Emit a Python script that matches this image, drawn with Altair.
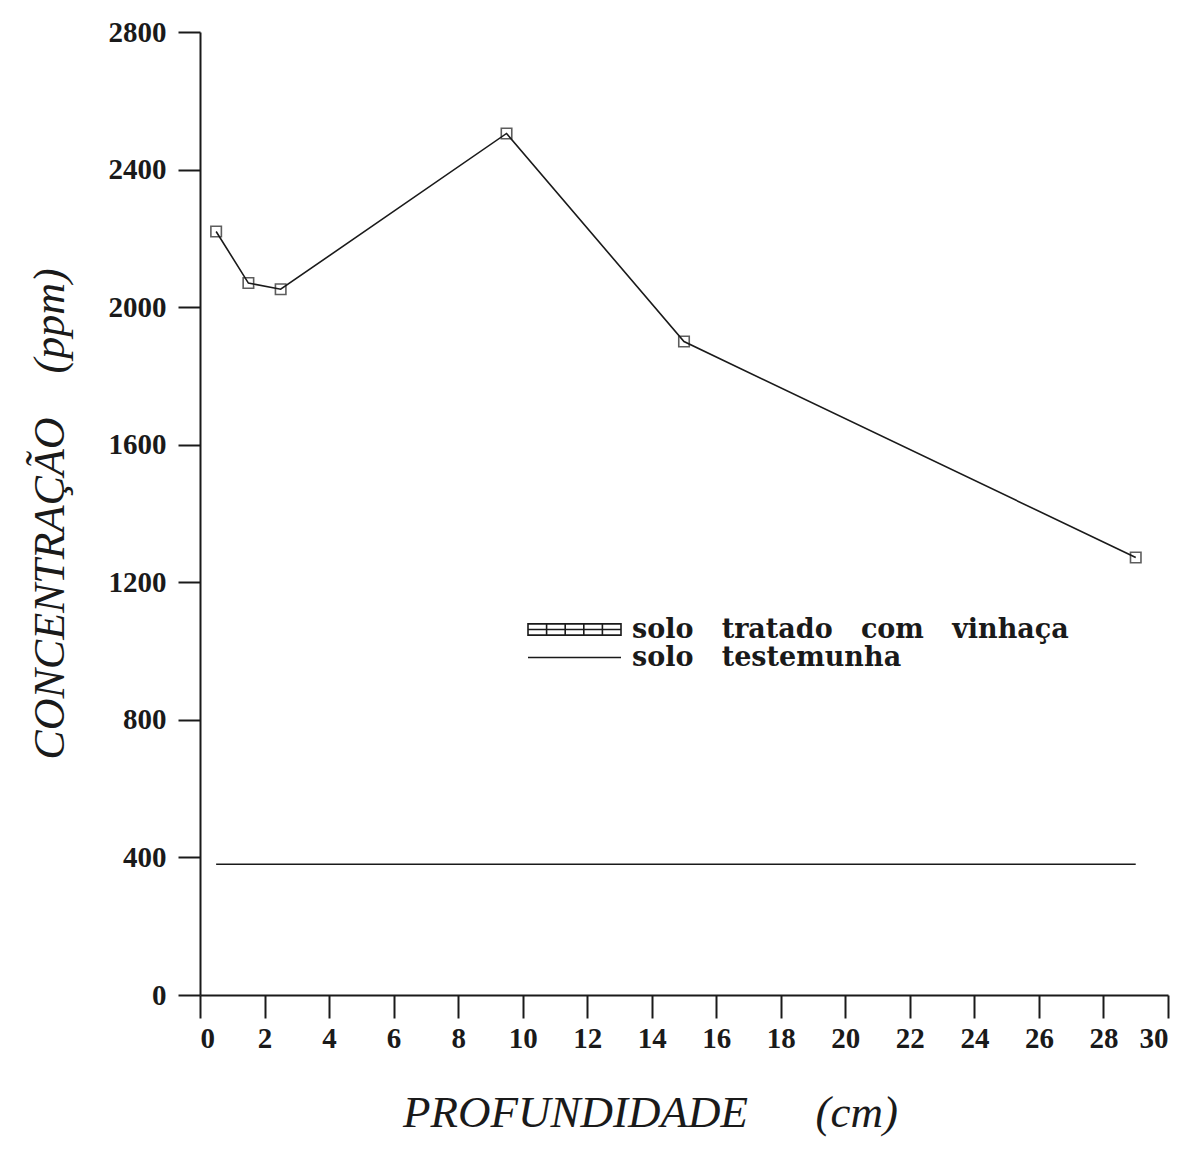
import altair as alt
import pandas as pd

# Data
depth = [0.5, 1.5, 2.5, 9.5, 15, 29]
treated = [2220, 2070, 2052, 2505, 1900, 1272]
control = [380, 380, 380, 380, 380, 380]

NB = "\u00a0"
S_TREAT = (NB * 3).join(["solo", "tratado", "com", "vinhaça"])
S_CTRL = (NB * 3).join(["solo", "testemunha"])

df = pd.DataFrame(
    {"x": depth + depth,
     "y": treated + control,
     "serie": [S_TREAT] * len(depth) + [S_CTRL] * len(depth)}
)

squares = "M-1,0H1" + "".join(
    f"M{-1 + 0.4 * i:.2f},-0.12h0.4v0.24h-0.4z" for i in range(5)
)
flat = "M-1,0H1"

FONT = "Liberation Serif"
LFONT = "DejaVu Serif"
INK = "#1a1a1a"

xax = alt.X(
    "x:Q",
    scale=alt.Scale(domain=[0, 30], nice=False, zero=False),
    axis=alt.Axis(
        values=list(range(0, 31, 2)), format="d", grid=False, tickSize=23, labelPadding=6,
        labelFont=FONT, labelFontWeight="bold", labelFontSize=29, labelColor=INK,
        domainColor=INK, tickColor=INK, domainWidth=2, tickWidth=2,
        title="PROFUNDIDADE" + NB * 6 + "(cm)", titleFont=FONT, titleFontStyle="italic",
        titleFontWeight="normal", titleFontSize=45, titlePadding=37, titleColor=INK,
        titleX=450,
    ),
)
yax = alt.Y(
    "y:Q",
    scale=alt.Scale(domain=[0, 2800], nice=False),
    axis=alt.Axis(
        values=list(range(0, 2801, 400)), format="d", grid=False, tickSize=22, labelPadding=12,
        labelFont=FONT, labelFontWeight="bold", labelFontSize=29, labelColor=INK,
        domainColor=INK, tickColor=INK, domainWidth=2, tickWidth=2,
        title="CONCENTRAÇÃO" + NB * 4 + "(ppm)", titleFont=FONT, titleFontStyle="italic",
        titleFontWeight="normal", titleFontSize=44, titlePadding=36, titleColor=INK,
    ),
)

base = alt.Chart(df)

lines = base.mark_line(strokeWidth=1.6, color=INK).encode(
    x=xax, y=yax, detail="serie:N"
)

pts = base.transform_filter(alt.datum.serie == S_TREAT).mark_point(
    shape="square", size=110, filled=False, strokeWidth=1.6, color=INK
).encode(x="x:Q", y="y:Q")


def legend_for(name, path, ly):
    return base.transform_filter(alt.datum.serie == name).mark_point(
        opacity=0, size=8649, filled=False
    ).encode(
        x="x:Q",
        y="y:Q",
        shape=alt.Shape(
            "serie:N",
            scale=alt.Scale(domain=[name], range=[path]),
            legend=alt.Legend(
                title=None, orient="none", legendX=327, legendY=ly,
                symbolOpacity=1, symbolFillColor="transparent", symbolStrokeColor=INK,
                symbolStrokeWidth=1.6, symbolSize=8649,
                labelFont=LFONT, labelFontWeight="bold", labelFontSize=27, labelColor=INK,
                labelOffset=10, labelLimit=700,
            ),
        ),
    )


leg1 = legend_for(S_TREAT, squares, 550)
leg2 = legend_for(S_CTRL, flat, 578)

chart = alt.layer(lines, pts, leg1, leg2).resolve_scale(shape="independent").properties(
    width=968, height=963,
    autosize=alt.AutoSizeParams(type="none"),
    padding={"left": 192, "top": 24, "right": 13, "bottom": 150},
).configure(background="white").configure_view(strokeWidth=0)

chart.save("out.html", embed_options={"renderer": "svg", "actions": False})
